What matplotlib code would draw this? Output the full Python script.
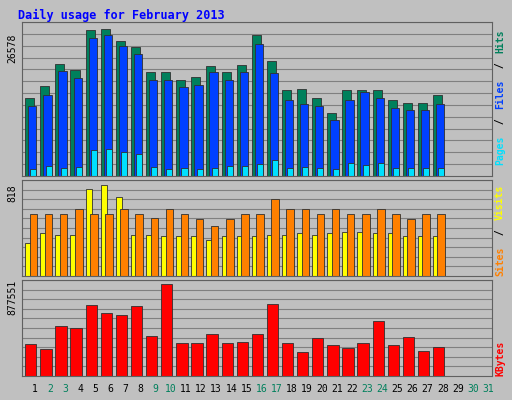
import matplotlib.pyplot as plt
import numpy as np

days = list(range(1, 32))
weekend = {2, 3, 9, 10, 16, 17, 23, 24, 30, 31}

hits = [14100, 16270, 20250, 19160, 26400, 26578, 24410, 23320, 18800, 18800, 17360, 17900, 19890, 18800,
        20070, 25490, 20790, 15550, 15730, 14100, 11390, 15550, 15550, 15550, 13740, 13200, 13200, 14640]
files = [12660, 14640, 18980, 17720, 24950, 25490, 23500, 22060, 17360, 17360, 16090, 16450, 18800, 17360,
         18800, 23870, 18620, 13740, 13020, 12660, 10120, 13740, 15190, 14100, 12290, 11930, 11930, 13020]
pages = [1270, 1810, 1450, 1630, 4700, 4880, 4340, 3980, 1630, 1270, 1450, 1270, 1450, 1810,
         1810, 2170, 2890, 1450, 1630, 1450, 1270, 2350, 1990, 2350, 1450, 1450, 1450, 1450]
visits = [558, 558, 558, 603, 558, 558, 603, 558, 522, 603, 558, 513, 450, 513,
          558, 558, 693, 603, 603, 558, 603, 558, 558, 603, 558, 513, 558, 558]
sites = [297, 387, 369, 369, 783, 818, 711, 369, 369, 360, 360, 360, 324, 360,
         360, 360, 369, 369, 387, 369, 387, 396, 396, 387, 387, 360, 360, 360]
kbytes = [305220, 257530, 476900, 457820, 677200, 600890, 581820, 667660, 381520, 877551, 314750, 314750,
          400600, 314750, 324290, 400600, 686740, 314750, 228910, 362440, 295680, 267060, 314750, 524590,
          295680, 371980, 238450, 276600]

bg = "#c0c0c0"
fig = plt.figure(figsize=(5.12, 4.0), dpi=100, facecolor=bg)
mono = "DejaVu Sans Mono"
fig.text(18 / 512, 1 - 15 / 400, "Daily usage for February 2013", color="#0000ff",
         fontsize=8.5, fontweight="bold", family=mono, va="center")

x = np.arange(1, 29)
W, H = 512, 400
def panel(top, bottom):
    ax = fig.add_axes([22 / W, 1 - bottom / H, 470 / W, (bottom - top) / H])
    ax.set_facecolor(bg)
    ax.set_xlim(0.14, 31.26)
    ax.set_xticks([])
    ax.set_yticks([])
    for s in ax.spines.values():
        s.set_color("#606060")
    return ax

def grid(ax, ymax, n):
    for v in np.linspace(0, ymax, n + 1)[1:]:
        ax.axhline(v, color="#808080", lw=0.8, zorder=0)

ek = dict(edgecolor="#303030", linewidth=0.6, align="edge", zorder=2)

ax1 = panel(22, 176)
ax1.set_ylim(0, 26578 * 154 / 147)
grid(ax1, 26578 * 154 / 147, 13)
ax1.bar(x - 0.65, hits, 0.6, color="#00805c", **ek)
ax1.bar(x - 0.45, files, 0.55, color="#0040ff", **ek)
ax1.bar(x - 0.3, pages, 0.4, color="#00e0ff", **ek)

ax2 = panel(180, 276)
ax2.set_ylim(0, 818 * 96 / 91)
grid(ax2, 818 * 96 / 91, 10)
ax2.bar(x - 0.65, sites, 0.4, color="#ffff00", **ek)
ax2.bar(x - 0.35, visits, 0.5, color="#ff8000", **ek)

ax3 = panel(280, 376)
ax3.set_ylim(0, 877551 * 96 / 92)
grid(ax3, 877551 * 96 / 92, 10)
ax3.bar(x - 0.65, kbytes, 0.75, color="#ff0000", **ek)

# left max labels
for y, lab in [(48, "26578"), (193, "818"), (297, "877551")]:
    fig.text(12 / W, 1 - y / H, lab, rotation=90, family=mono, fontsize=7,
             ha="center", va="center")

# right legends
def rlabel(y, parts):
    yy = y
    for txt, col in parts:
        fig.text(500 / W, 1 - yy / H, txt, rotation=90, family=mono, fontsize=7,
                 color=col, ha="center", va="bottom", fontweight="bold")
        yy -= len(txt) * 7.0
rlabel(165, [("Pages", "#00e0ff"), (" / ", "#000000"), ("Files", "#0040ff"), (" / ", "#000000"), ("Hits", "#00805c")])
rlabel(276, [("Sites", "#ff8000"), (" / ", "#000000"), ("Visits", "#ffff00")])
rlabel(376, [("KBytes", "#ff0000")])

for d in days:
    xp = 35 + (d - 1) * 15.1
    fig.text(xp / W, 1 - 389 / H, str(d), family=mono, fontsize=7, ha="center", va="center",
             color="#00805c" if d in weekend else "#000000")

fig.savefig("out.png", dpi=100, facecolor=bg)
